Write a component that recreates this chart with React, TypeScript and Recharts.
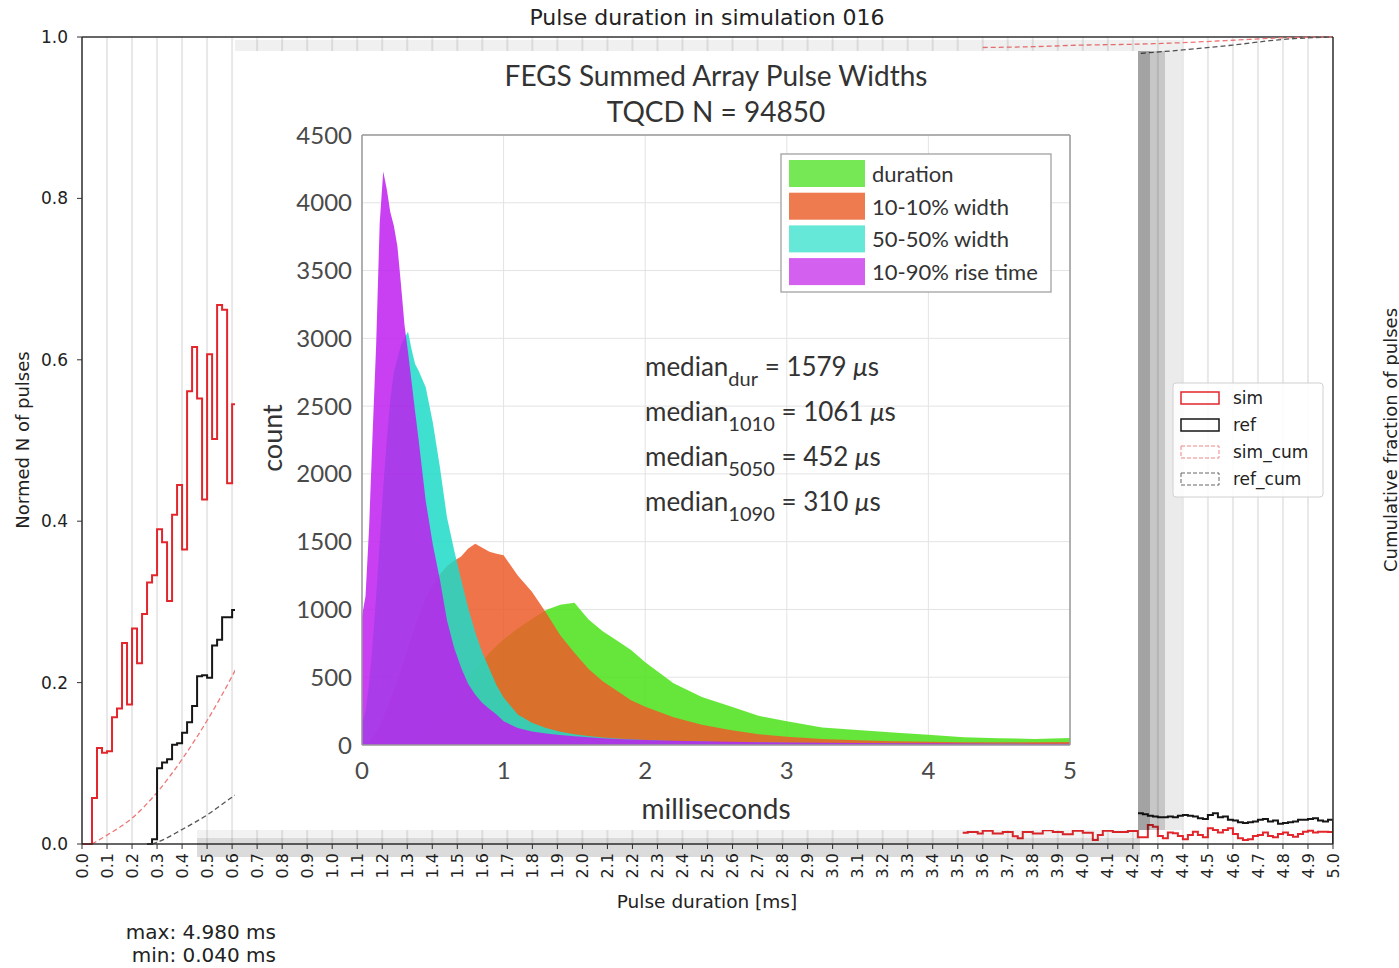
import React from 'react';
import {
  ComposedChart,
  Line,
  Area,
  XAxis,
  YAxis,
  CartesianGrid,
  ReferenceLine,
} from 'recharts';

// ---------- outer figure: normed pulse-duration histograms, bins of 0.02 ms ----------
const BIN = 0.02;

// sim histogram, left part (visible before the pasted inset)
const SIM_LEFT_START = 0.0;
const simLeft = [
  0, 0, 0.057, 0.119, 0.113, 0.115, 0.157, 0.168, 0.249, 0.173,
  0.267, 0.224, 0.285, 0.324, 0.333, 0.39, 0.374, 0.301, 0.408, 0.445,
  0.365, 0.561, 0.616, 0.552, 0.427, 0.607, 0.502, 0.668, 0.662, 0.447,
  0.545, 0.58,
];

// ref histogram, left part
const REF_LEFT_START = 0.26;
const refLeft = [
  0, 0.006, 0.094, 0.101, 0.105, 0.123, 0.125, 0.138, 0.151, 0.171,
  0.208, 0.209, 0.206, 0.246, 0.253, 0.281, 0.281, 0.29, 0.3,
];

// sim histogram, right part (3.52 .. 4.98)
const SIM_RIGHT_START = 3.52;
const simRight = [
  0.014, 0.015, 0.015, 0.013, 0.0165, 0.0165, 0.013, 0.013, 0.015, 0.015,
  0.0095, 0.007, 0.015, 0.015, 0.013, 0.013, 0.017, 0.017, 0.015, 0.015,
  0.012, 0.012, 0.0165, 0.0165, 0.014, 0.014, 0.005, 0.011, 0.0165, 0.0165,
  0.015, 0.015, 0.015, 0.016, 0.016, 0.0083, 0.0083, 0.0235, 0.0215, 0.0099,
  0.007, 0.0141, 0.0132, 0.0099, 0.0058, 0.0112, 0.0153, 0.0112, 0.0083, 0.0194,
  0.0173, 0.0141, 0.0173, 0.0194, 0.0124, 0.007, 0.005, 0.0058, 0.0099, 0.0112,
  0.0141, 0.0099, 0.0083, 0.0124, 0.0141, 0.0112, 0.0091, 0.0124, 0.0153, 0.0165,
  0.0141, 0.0153, 0.0153, 0.015,
];

// ref histogram, right part (4.22 .. 4.98)
const REF_RIGHT_START = 4.22;
const refRight = [
  0.038, 0.037, 0.035, 0.034, 0.033, 0.033, 0.034, 0.033, 0.035, 0.036,
  0.035, 0.034, 0.032, 0.031, 0.036, 0.038, 0.033, 0.034, 0.03, 0.029,
  0.027, 0.026, 0.027, 0.028, 0.03, 0.031, 0.028, 0.029, 0.025, 0.026,
  0.027, 0.028, 0.03, 0.03, 0.031, 0.032, 0.029, 0.028, 0.03,
];

// cumulative fractions
const simCumLeftX = [0.04, 0.1, 0.2, 0.3, 0.4, 0.5, 0.6, 0.62];
const simCumLeft = [0, 0.011, 0.032, 0.064, 0.105, 0.153, 0.208, 0.22];
const simCumRightX = [3.6, 3.8, 4.0, 4.2, 4.4, 4.6, 4.8, 5.0];
const simCumRight = [0.987, 0.988, 0.99, 0.991, 0.993, 0.996, 0.999, 1.0];
const refCumLeftX = [0.28, 0.3, 0.4, 0.5, 0.6, 0.62];
const refCumLeft = [0, 0.002, 0.018, 0.036, 0.058, 0.062];
const refCumRightX = [4.2, 4.4, 4.6, 4.8, 5.0];
const refCumRight = [0.979, 0.984, 0.99, 0.997, 1.0];

const xTicks = Array.from({ length: 51 }, (_, i) => +(i * 0.1).toFixed(1));
const yTicks = [0, 0.2, 0.4, 0.6, 0.8, 1.0];

// ---------- inset: FEGS summed array pulse widths (counts) ----------
const insetX = [
  0, 0.025, 0.05, 0.075, 0.1, 0.125, 0.15, 0.175, 0.2, 0.225, 0.25, 0.275, 0.3, 0.325, 0.35, 0.375, 0.4,
  0.45, 0.5, 0.55, 0.6, 0.65, 0.7, 0.75, 0.8, 0.85, 0.9, 0.95, 1.0,
  1.1, 1.2, 1.3, 1.4, 1.5, 1.6, 1.7, 1.8, 1.9, 2.0,
  2.2, 2.4, 2.6, 2.8, 3.0,
  3.25, 3.5, 3.75, 4.0, 4.25, 4.5, 4.75, 5.0,
];
const durationCounts = [
  0, 0, 0, 0, 0, 2, 5, 8, 12, 16, 20, 25, 30, 38, 46, 55, 65,
  100, 150, 210, 280, 350, 420, 490, 560, 620, 680, 730, 780,
  860, 930, 995, 1035, 1050, 925, 840, 770, 700, 610,
  455, 355, 285, 215, 175,
  130, 110, 92, 76, 58, 50, 45, 52,
];
const width1010Counts = [
  0, 10, 30, 60, 100, 150, 200, 270, 340, 410, 480, 560, 640, 720, 800, 880, 950,
  1080, 1180, 1260, 1320, 1360, 1390, 1450, 1485, 1455, 1425, 1410, 1400,
  1250, 1130, 975, 810, 680, 560, 470, 400, 330, 283,
  205, 150, 110, 80, 60,
  45, 35, 28, 24, 21, 20, 20, 22,
];
const width5050Counts = [
  150, 250, 450, 750, 1100, 1500, 1900, 2250, 2550, 2750, 2850, 2950, 3000, 3050, 2920, 2810, 2760,
  2640, 2380, 2050, 1680, 1440, 1220, 1010, 830, 680, 560, 440, 350,
  225, 165, 125, 98, 80, 66, 56, 48, 42, 37,
  30, 25, 21, 18, 16,
  14, 12, 11, 10, 9, 9, 8, 8,
];
const riseCounts = [
  950, 1100, 1600, 2300, 2950, 3850, 4230, 4100, 3930, 3830, 3680, 3400, 3100, 2900, 2680, 2460, 2250,
  1800, 1480, 1220, 920, 720, 570, 450, 370, 310, 265, 225, 175,
  125, 100, 85, 74, 65, 57, 50, 45, 40, 36,
  31, 27, 24, 21, 18,
  16, 14, 13, 12, 11, 10, 10, 9,
];
const insetYTicks = [0, 500, 1000, 1500, 2000, 2500, 3000, 3500, 4000, 4500];
const insetXTicks = [0, 1, 2, 3, 4, 5];

const insetLegend = [
  { label: 'duration', color: '#77e855' },
  { label: '10-10% width', color: '#ee7a50' },
  { label: '50-50% width', color: '#66e8d8' },
  { label: '10-90% rise time', color: '#d460f0' },
];
const medians = [
  { sub: 'dur', value: '1579' },
  { sub: '1010', value: '1061' },
  { sub: '5050', value: '452' },
  { sub: '1090', value: '310' },
];

// merge the pieces into one table keyed by x
const rowMap = new Map<string, any>();
const put = (x: number, key: string, v: number) => {
  const k = x.toFixed(3);
  if (!rowMap.has(k)) rowMap.set(k, { x: +k });
  rowMap.get(k)[key] = v;
};
simLeft.forEach((v, i) => put(SIM_LEFT_START + i * BIN, 'simL', v));
refLeft.forEach((v, i) => put(REF_LEFT_START + i * BIN, 'refL', v));
simRight.forEach((v, i) => put(SIM_RIGHT_START + i * BIN, 'simR', v));
put(5.0, 'simR', 0);
refRight.forEach((v, i) => put(REF_RIGHT_START + i * BIN, 'refR', v));
put(5.0, 'refR', 0);
simCumLeftX.forEach((x, i) => put(x, 'simCumL', simCumLeft[i]));
simCumRightX.forEach((x, i) => put(x, 'simCumR', simCumRight[i]));
refCumLeftX.forEach((x, i) => put(x, 'refCumL', refCumLeft[i]));
refCumRightX.forEach((x, i) => put(x, 'refCumR', refCumRight[i]));
const outerData = [...rowMap.values()].sort((a, b) => a.x - b.x);

const insetData = insetX.map((x, i) => ({
  x,
  dur: durationCounts[i],
  w1010: width1010Counts[i],
  w5050: width5050Counts[i],
  rise: riseCounts[i],
}));

const MPL = 'DejaVu Sans';
const INSET_FONT = 'Lato';
const SIM_RED = '#e3262b';
const REF_BLACK = '#161616';

const RotatedTick = (props: any) => {
  const { x, y, payload } = props;
  return (
    <text
      x={x}
      y={y}
      transform={`rotate(-90 ${x} ${y})`}
      textAnchor="end"
      dy="0.35em"
      fontSize={16}
      fontFamily={MPL}
      fill="#222"
    >
      {Number(payload.value).toFixed(1)}
    </text>
  );
};

const stepLine = (key: string, color: string) => (
  <Line
    key={key}
    yAxisId="l"
    dataKey={key}
    type="stepAfter"
    stroke={color}
    strokeWidth={2}
    dot={false}
    activeDot={false}
    connectNulls
    isAnimationActive={false}
  />
);

const cumLine = (key: string, color: string) => (
  <Line
    key={key}
    yAxisId="l"
    dataKey={key}
    type="monotone"
    stroke={color}
    strokeWidth={1.3}
    strokeDasharray="5 3"
    dot={false}
    activeDot={false}
    connectNulls
    isAnimationActive={false}
  />
);

export default function App() {
  return (
    <div style={{ position: 'absolute', left: 0, top: 0, width: 1399, height: 968, background: '#fff' }}>
      {/* outer matplotlib-style figure */}
      <div style={{ position: 'absolute', left: 0, top: 0 }}>
        <ComposedChart width={1399} height={968} data={outerData} margin={{ top: 37, right: 0, bottom: 0, left: 0 }}>
          <CartesianGrid yAxisId="l" horizontal={false} stroke="#e8e8e8" strokeWidth={2} />
          <XAxis
            dataKey="x"
            type="number"
            domain={[0, 5]}
            ticks={xTicks}
            interval={0}
            height={124}
            tickSize={5}
            tickMargin={4}
            tick={RotatedTick}
            tickLine={{ stroke: '#333' }}
            axisLine={{ stroke: '#333', strokeWidth: 1.5 }}
            allowDataOverflow
          />
          <YAxis
            yAxisId="l"
            domain={[0, 1]}
            ticks={yTicks}
            width={82}
            tickSize={5}
            tickMargin={9}
            tickFormatter={(v: number) => v.toFixed(1)}
            tick={{ fontSize: 17, fill: '#222', fontFamily: MPL }}
            tickLine={{ stroke: '#333' }}
            axisLine={{ stroke: '#333', strokeWidth: 1.5 }}
          />
          <YAxis
            yAxisId="r"
            orientation="right"
            domain={[0, 1]}
            ticks={yTicks}
            width={66}
            tickSize={5}
            tickMargin={7}
            tickFormatter={(v: number) => v.toFixed(1)}
            tick={{ fontSize: 17, fill: '#222', fontFamily: MPL }}
            tickLine={{ stroke: '#333' }}
            axisLine={{ stroke: '#333', strokeWidth: 1.5 }}
          />
          <ReferenceLine yAxisId="l" y={1} stroke="#333" strokeWidth={1.5} />
          {cumLine('simCumL', '#ee7777')}
          {cumLine('simCumR', '#ee7777')}
          {cumLine('refCumL', '#555')}
          {cumLine('refCumR', '#555')}
          {stepLine('simL', SIM_RED)}
          {stepLine('simR', SIM_RED)}
          {stepLine('refL', REF_BLACK)}
          {stepLine('refR', REF_BLACK)}
        </ComposedChart>
      </div>

      {/* soft shadow around the pasted inset */}
      <div style={{ position: 'absolute', left: 235, top: 40, width: 947, height: 11, background: 'rgba(0,0,0,0.06)' }} />
      <div style={{ position: 'absolute', left: 1138, top: 51, width: 12, height: 779, background: 'rgba(0,0,0,0.36)' }} />
      <div style={{ position: 'absolute', left: 1150, top: 51, width: 15, height: 779, background: 'rgba(0,0,0,0.22)' }} />
      <div style={{ position: 'absolute', left: 1165, top: 51, width: 17, height: 779, background: 'rgba(0,0,0,0.08)' }} />
      <div style={{ position: 'absolute', left: 197, top: 830, width: 943, height: 8, background: 'rgba(0,0,0,0.05)' }} />
      <div style={{ position: 'absolute', left: 197, top: 838, width: 943, height: 19, background: 'rgba(0,0,0,0.14)' }} />

      {/* inset chart */}
      <div style={{ position: 'absolute', left: 235, top: 51, width: 903, height: 779, background: '#fff' }}>
        <ComposedChart width={903} height={779} data={insetData} margin={{ top: 84, right: 68, bottom: 0, left: 0 }}>
          <CartesianGrid yAxisId="l" stroke="#e3e3e3" />
          <XAxis
            dataKey="x"
            type="number"
            domain={[0, 5]}
            ticks={insetXTicks}
            height={85}
            tickLine={false}
            tickSize={6}
            tickMargin={11}
            tick={{ fontSize: 24, fill: '#4a4a4a', fontFamily: INSET_FONT }}
            axisLine={{ stroke: '#9a9a9a', strokeWidth: 1.5 }}
          />
          <YAxis
            yAxisId="l"
            domain={[0, 4500]}
            ticks={insetYTicks}
            width={127}
            tickLine={false}
            tickSize={6}
            tickMargin={4}
            tick={{ fontSize: 24, fill: '#4a4a4a', fontFamily: INSET_FONT }}
            axisLine={{ stroke: '#9a9a9a', strokeWidth: 1.5 }}
          />
          <YAxis
            yAxisId="r"
            orientation="right"
            domain={[0, 4500]}
            ticks={insetYTicks}
            width={68}
            mirror
            tickSize={6}
            tick={false}
            tickLine={{ stroke: '#777' }}
            axisLine={{ stroke: '#9a9a9a', strokeWidth: 1.5 }}
          />
          <ReferenceLine yAxisId="l" y={4500} stroke="#9a9a9a" strokeWidth={1.5} />
          <Area yAxisId="l" dataKey="dur" type="linear" stroke="none" fill="#4be218" fillOpacity={0.85} isAnimationActive={false} />
          <Area yAxisId="l" dataKey="w1010" type="linear" stroke="none" fill="#ed5c2a" fillOpacity={0.85} isAnimationActive={false} />
          <Area yAxisId="l" dataKey="w5050" type="linear" stroke="none" fill="#1fdbc8" fillOpacity={0.85} isAnimationActive={false} />
          <Area yAxisId="l" dataKey="rise" type="linear" stroke="none" fill="#be1fee" fillOpacity={0.85} isAnimationActive={false} />
        </ComposedChart>
      </div>

      {/* text and legends */}
      <svg width={1399} height={968} style={{ position: 'absolute', left: 0, top: 0, pointerEvents: 'none' }}>
        <g fontFamily={MPL} fill="#222">
          <text x={707} y={25} fontSize={22} textAnchor="middle">Pulse duration in simulation 016</text>
          <text x={707} y={908} fontSize={18.5} textAnchor="middle">Pulse duration [ms]</text>
          <text x={22} y={440} fontSize={18} textAnchor="middle" dominantBaseline="central" transform="rotate(-90 22 440)">
            Normed N of pulses
          </text>
          <text x={1390} y={440} fontSize={18} textAnchor="middle" dominantBaseline="central" transform="rotate(-90 1390 440)">
            Cumulative fraction of pulses
          </text>
          <text x={276} y={939} fontSize={20} textAnchor="end">max: 4.980 ms</text>
          <text x={276} y={962} fontSize={20} textAnchor="end">min: 0.040 ms</text>
        </g>

        {/* outer legend */}
        <g fontFamily={MPL} fontSize={17} fill="#222">
          <rect x={1173} y={383} width={150} height={114} rx={3} fill="rgba(255,255,255,0.85)" stroke="#d0d0d0" />
          <rect x={1181} y={392} width={38} height={12} fill="none" stroke={SIM_RED} strokeWidth={1.5} />
          <text x={1233} y={404}>sim</text>
          <rect x={1181} y={419} width={38} height={12} fill="none" stroke={REF_BLACK} strokeWidth={1.5} />
          <text x={1233} y={431}>ref</text>
          <rect x={1181} y={446} width={38} height={12} fill="none" stroke="#ee8888" strokeDasharray="4 2" />
          <text x={1233} y={458}>sim_cum</text>
          <rect x={1181} y={473} width={38} height={12} fill="none" stroke="#666" strokeDasharray="4 2" />
          <text x={1233} y={485}>ref_cum</text>
        </g>

        {/* inset texts */}
        <g fontFamily={INSET_FONT} fill="#333">
          <text x={716} y={86} fontSize={28} textAnchor="middle">FEGS Summed Array Pulse Widths</text>
          <text x={716} y={122} fontSize={28} textAnchor="middle">TQCD N = 94850</text>
          <text x={716} y={819} fontSize={28} textAnchor="middle">milliseconds</text>
          <text x={271} y={438} fontSize={27} textAnchor="middle" dominantBaseline="central" transform="rotate(-90 271 438)">
            count
          </text>
          {medians.map((m, i) => (
            <text key={m.sub} x={645} y={376 + i * 45} fontSize={26}>
              <tspan>median</tspan>
              <tspan dy={10} fontSize={20}>{m.sub}</tspan>
              <tspan dy={-10}>{` = ${m.value} `}</tspan>
              <tspan fontStyle="italic">μ</tspan>
              <tspan>s</tspan>
            </text>
          ))}
        </g>

        {/* inset legend */}
        <g fontFamily={INSET_FONT} fontSize={22} fill="#333">
          <rect x={781} y={154} width={270} height={138} fill="#fff" stroke="#999" strokeWidth={1.2} />
          {insetLegend.map((l, i) => (
            <g key={l.label}>
              <rect x={789} y={160 + i * 32.7} width={76} height={27} fill={l.color} />
              <text x={872} y={182 + i * 32.7}>{l.label}</text>
            </g>
          ))}
        </g>
      </svg>
    </div>
  );
}
